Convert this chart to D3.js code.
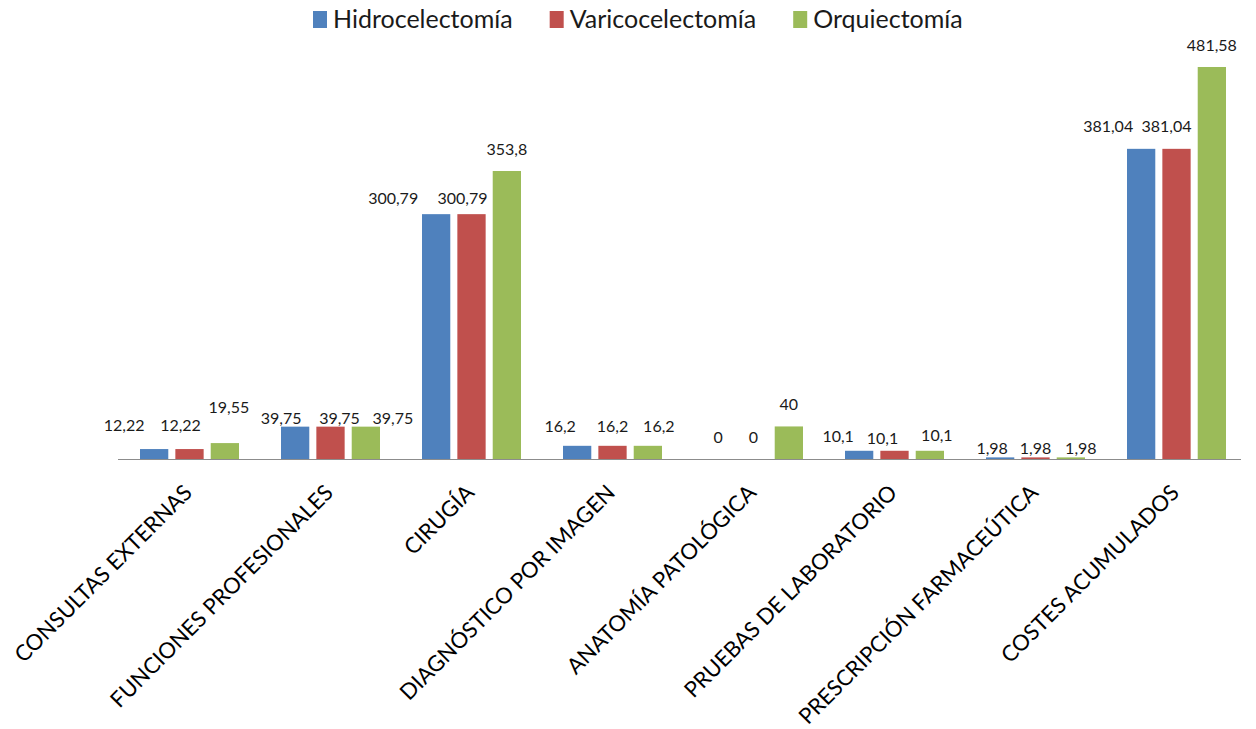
<!DOCTYPE html>
<html>
<head>
<meta charset="utf-8">
<script src="https://cdn.jsdelivr.net/npm/d3@7"></script>
<style>
  body { margin: 0; background: #fff; }
  svg { display: block; }
</style>
</head>
<body>
<svg id="chart" width="1256" height="729"></svg>
<script>
// Cost per process category and surgical procedure
const categories = [
  "CONSULTAS EXTERNAS",
  "FUNCIONES PROFESIONALES",
  "CIRUGÍA",
  "DIAGNÓSTICO POR IMAGEN",
  "ANATOMÍA PATOLÓGICA",
  "PRUEBAS DE LABORATORIO",
  "PRESCRIPCIÓN FARMACEÚTICA",
  "COSTES ACUMULADOS"
];
const seriesNames = ["Hidrocelectomía", "Varicocelectomía", "Orquiectomía"];
const hidrocelectomia  = [12.22, 39.75, 300.79, 16.2, 0, 10.1, 1.98, 381.04];
const varicocelectomia = [12.22, 39.75, 300.79, 16.2, 0, 10.1, 1.98, 381.04];
const orquiectomia     = [19.55, 39.75, 353.8, 16.2, 40, 10.1, 1.98, 481.58];
const seriesValues = [hidrocelectomia, varicocelectomia, orquiectomia];
const colors = ["#4F81BD", "#C0504D", "#9BBB59"];

// Hand-placed data label offsets [dx, dy] (per category, per series),
// relative to the default spot centred above each bar.
const labelNudges = [
  [[-30, -2], [-9, -2], [4, -14]],
  [[-14, 14], [9, 14], [27, 14]],
  [[-43, 6], [-9, 6], [0, 0]],
  [[-17, 3], [0, 3], [11, 3]],
  [[0, 0], [0, 0], [0, 0]],
  [[-21, 8], [-12, 10], [7, 7]],
  [[-8, 13], [0, 13], [10, 13]],
  [[-33, 0], [-10, 0], [0, 0]]
];

const svg = d3.select("#chart");
const FONT = "Lato, 'Open Sans', sans-serif";

const plot = { left: 118, right: 1241, baseline: 459 };

const x = d3.scaleBand()
  .domain(categories)
  .range([119, 1247])
  .paddingInner(0)
  .paddingOuter(0);

const xSub = d3.scaleBand()
  .domain(seriesNames)
  .range([-49.5, 49.5])
  .paddingInner(0.2);

const y = d3.scaleLinear()
  .domain([0, 500])
  .range([plot.baseline, plot.baseline - 500 * 0.814]);

const rows = categories.map((c, i) => ({
  category: c,
  i,
  values: seriesNames.map((s, k) => ({ series: s, k, value: seriesValues[k][i] }))
}));

// Bars
const groups = svg.append("g")
  .selectAll("g")
  .data(rows)
  .join("g")
  .attr("transform", d => `translate(${x(d.category) + x.bandwidth() / 2},0)`);

groups.selectAll("rect")
  .data(d => d.values)
  .join("rect")
  .attr("x", d => xSub(d.series))
  .attr("width", xSub.bandwidth())
  .attr("y", d => y(d.value))
  .attr("height", d => y(0) - y(d.value))
  .attr("fill", d => colors[d.k]);

// Baseline axis
const xAxis = d3.axisBottom(x).tickSize(0).tickFormat("");
const axisG = svg.append("g")
  .attr("transform", `translate(0,${plot.baseline + 0.5})`)
  .call(xAxis);
axisG.select(".domain").remove();
axisG.append("line")
  .attr("x1", plot.left).attr("x2", plot.right)
  .attr("stroke", "#8c8c8c").attr("stroke-width", 1);

// Data labels
const fmt = v => String(v).replace(".", ",");
groups.selectAll("text.val")
  .data(d => d.values.map(v => ({ ...v, i: d.i })))
  .join("text")
  .attr("class", "val")
  .attr("x", d => xSub(d.series) + xSub.bandwidth() / 2 + labelNudges[d.i][d.k][0])
  .attr("y", d => y(d.value) - 22 + labelNudges[d.i][d.k][1])
  .attr("dy", "0.35em")
  .attr("text-anchor", "middle")
  .attr("font-family", FONT)
  .attr("font-size", 16)
  .attr("fill", "#1a1a1a")
  .text(d => fmt(d.value));

// Rotated category labels
svg.append("g")
  .selectAll("text")
  .data(categories)
  .join("text")
  .attr("transform", d => `translate(${x(d) + x.bandwidth() / 2 + 4},494) rotate(-45)`)
  .attr("text-anchor", "end")
  .attr("font-family", FONT)
  .attr("font-size", 22)
  .attr("fill", "#000")
  .text(d => d);

// Legend
const legend = svg.append("g").attr("transform", "translate(313,0)");
let lx = 0;
seriesNames.forEach((s, k) => {
  const item = legend.append("g").attr("transform", `translate(${lx},0)`);
  item.append("rect")
    .attr("x", 0).attr("y", 11)
    .attr("width", 14).attr("height", 17)
    .attr("fill", colors[k]);
  const t = item.append("text")
    .attr("x", 20).attr("y", 28)
    .attr("font-family", FONT)
    .attr("font-size", 25)
    .attr("fill", "#1a1a1a")
    .text(s);
  lx += 20 + t.node().getComputedTextLength() + 37;
});
</script>
</body>
</html>
